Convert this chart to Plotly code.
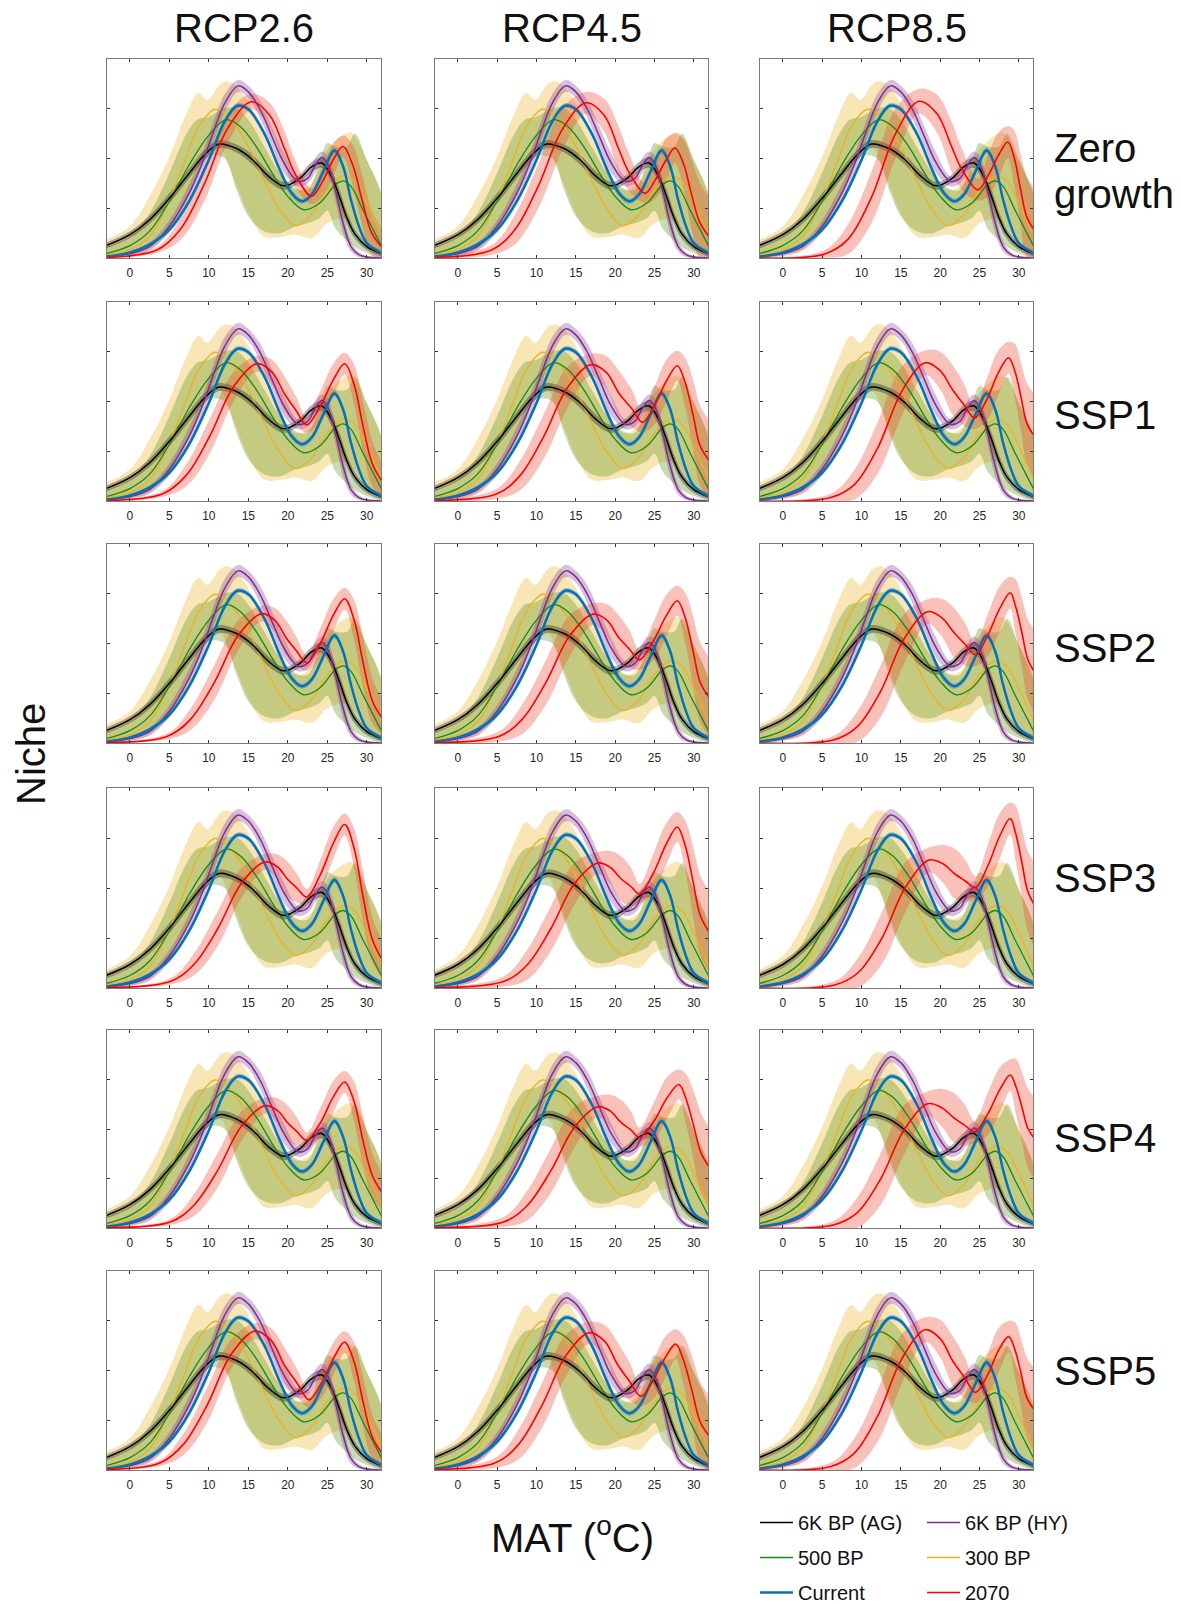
import plotly.graph_objects as go

# ---------------- text ----------------
COL_TITLES = ["RCP2.6", "RCP4.5", "RCP8.5"]
ROW_TITLES = [["Zero", "growth"], ["SSP1"], ["SSP2"], ["SSP3"], ["SSP4"], ["SSP5"]]
X_TICKS = [0, 5, 10, 15, 20, 25, 30]
Y_TICKS = [1, 2, 3]
NAMES = ["6K BP (AG)", "6K BP (HY)", "500 BP", "300 BP", "Current", "2070"]

# ---------------- historical curves (identical in every panel) ----------------
BLACK_X = [-3, 0, 2.5, 5, 7.5, 9.5, 11.3, 13.5, 15.5, 17.5, 19.5, 21.5, 23, 24.3, 25.5, 26.5, 27.5, 28.5, 30, 32]
BLACK_Y = [0.25, 0.47, 0.77, 1.2, 1.7, 2.08, 2.29, 2.2, 1.98, 1.65, 1.45, 1.6, 1.83, 1.91, 1.65, 1.25, 0.8, 0.48, 0.23, 0.08]
BLACK_HW = [0.06, 0.07, 0.08, 0.1, 0.1, 0.1, 0.08, 0.08, 0.1, 0.1, 0.08, 0.08, 0.1, 0.1, 0.12, 0.14, 0.12, 0.1, 0.07, 0.04]

PURPLE_X = [-3, 0, 2.5, 5, 7.5, 9, 10.5, 12, 13.7, 15, 16.5, 18, 19.5, 21.3, 22.5, 23.5, 24.3, 25, 26, 27, 28, 29, 30, 32]
PURPLE_Y = [0.03, 0.09, 0.23, 0.64, 1.3, 1.84, 2.5, 3.11, 3.46, 3.34, 2.98, 2.44, 1.91, 1.54, 1.6, 1.87, 2.02, 1.91, 1.37, 0.7, 0.23, 0.07, 0.02, 0.0]
PURPLE_HW = [0.02, 0.05, 0.08, 0.12, 0.18, 0.2, 0.2, 0.18, 0.12, 0.12, 0.18, 0.2, 0.2, 0.1, 0.1, 0.15, 0.12, 0.15, 0.2, 0.2, 0.1, 0.05, 0.02, 0.0]

BLUE_X = [-3, 0, 2.5, 5, 7.5, 10, 12, 13.6, 15, 17, 19, 20.5, 21.8, 23, 24.5, 25.9, 27, 28, 29, 30, 32]
BLUE_Y = [0.03, 0.11, 0.27, 0.57, 1.14, 1.97, 2.74, 3.06, 2.99, 2.51, 1.77, 1.3, 1.14, 1.27, 1.74, 2.16, 1.84, 1.17, 0.64, 0.3, 0.08]
BLUE_HW = [0.02, 0.03, 0.04, 0.05, 0.06, 0.07, 0.07, 0.05, 0.05, 0.07, 0.08, 0.07, 0.05, 0.06, 0.08, 0.06, 0.08, 0.08, 0.06, 0.04, 0.02]

GREEN_X = [-3, 0, 2.5, 5, 7.5, 10, 12.2, 14, 16, 18, 20, 22, 24, 26, 27, 28, 29.5, 32]
GREEN_Y = [0.09, 0.25, 0.54, 1.14, 1.87, 2.47, 2.78, 2.64, 2.24, 1.71, 1.24, 0.97, 1.1, 1.47, 1.55, 1.44, 0.97, 0.2]
GREEN_BAND_X = [-3, 0, 2.5, 5, 7, 8.5, 10, 12, 13.5, 15, 17, 19, 21, 22.5, 24, 25, 26, 27.5, 28.5, 30, 32]
GREEN_BAND_HI = [0.22, 0.43, 0.9, 1.71, 2.44, 2.78, 2.84, 3.01, 3.01, 2.78, 2.24, 1.71, 1.4, 1.37, 1.91, 2.31, 2.24, 2.24, 2.5, 1.97, 1.2]
GREEN_BAND_LO = [0.0, 0.07, 0.23, 0.6, 1.17, 1.64, 2.04, 2.0, 1.37, 0.84, 0.54, 0.5, 0.64, 0.7, 0.8, 0.95, 0.6, 0.35, 0.22, 0.1, 0.03]

YELLOW_X = [-3, 0, 2.5, 5, 7, 8.5, 10, 10.8, 12, 13.5, 15, 17, 19, 21, 23, 25, 27, 28.5, 30, 32]
YELLOW_Y = [0.07, 0.17, 0.43, 1.17, 1.97, 2.58, 2.91, 2.99, 2.91, 2.64, 2.24, 1.57, 0.97, 0.65, 0.87, 1.37, 1.65, 1.54, 1.1, 0.4]
YELLOW_BAND_X = [-3, 0, 2.5, 5, 7, 8.7, 9.8, 11.5, 12.5, 13.5, 15, 17, 19, 21, 23, 25, 27, 28, 30, 32]
YELLOW_BAND_HI = [0.37, 0.64, 1.24, 2.04, 2.84, 3.32, 3.18, 3.51, 3.55, 3.44, 3.11, 2.44, 1.77, 1.37, 1.5, 2.17, 2.47, 2.52, 1.97, 1.15]
YELLOW_BAND_LO = [0.0, 0.05, 0.17, 0.57, 1.1, 1.7, 2.2, 2.2, 1.85, 1.47, 0.9, 0.43, 0.42, 0.47, 0.4, 0.7, 0.8, 0.7, 0.3, 0.05]

# ---------------- 2070 curves, one list per column (RCP2.6, RCP4.5, RCP8.5) ----------------
RED_X_ZERO = [
    [-3, 3.4, 6.4, 9.4, 12.4, 15.4, 17.7, 19.6, 20.9, 23.0, 24.4, 25.8, 27.0, 28.2, 29.4, 30.6, 32],
    [-3, 4.3, 7.3, 10.3, 13.3, 16.3, 18.6, 20.4, 21.7, 23.8, 25.1, 26.5, 27.6, 28.7, 29.7, 30.8, 32],
    [-3, 5.3, 8.3, 11.3, 14.3, 17.3, 19.6, 21.4, 22.7, 24.8, 26.1, 27.5, 28.6, 29.4, 30.2, 31.0, 32]]
RED_Y_ZERO = [
    [0.01, 0.16, 0.58, 1.48, 2.61, 3.14, 2.87, 2.19, 1.70, 1.24, 1.54, 1.99, 2.24, 1.88, 1.17, 0.51, 0.2],
    [0.01, 0.16, 0.58, 1.47, 2.59, 3.12, 2.87, 2.21, 1.74, 1.30, 1.57, 1.98, 2.21, 1.89, 1.28, 0.70, 0.42],
    [0.0, 0.08, 0.38, 1.23, 2.49, 3.15, 2.90, 2.26, 1.80, 1.37, 1.66, 2.09, 2.33, 2.02, 1.40, 0.83, 0.55]]
RED_X_SSP1 = [
    [-3, 4.1, 7.1, 10.1, 13.1, 16.1, 18.0, 19.6, 21.0, 22.4, 24.1, 25.8, 27.2, 28.4, 29.5, 30.7, 32],
    [-3, 4.9, 7.9, 10.9, 13.9, 16.9, 18.9, 20.5, 22.1, 23.5, 25.0, 26.6, 27.9, 28.9, 29.9, 30.8, 32],
    [-3, 6.1, 9.1, 12.1, 15.1, 18.1, 20.0, 21.6, 23.0, 24.4, 25.9, 27.4, 28.7, 29.5, 30.3, 31.0, 32]]
RED_Y_SSP1 = [
    [0.01, 0.14, 0.51, 1.30, 2.29, 2.76, 2.59, 2.15, 1.83, 1.53, 1.90, 2.45, 2.76, 2.34, 1.52, 0.75, 0.38],
    [0.01, 0.14, 0.51, 1.29, 2.27, 2.74, 2.58, 2.16, 1.86, 1.58, 1.92, 2.44, 2.72, 2.38, 1.73, 1.11, 0.8],
    [0.0, 0.07, 0.33, 1.08, 2.20, 2.78, 2.62, 2.23, 1.94, 1.67, 2.03, 2.58, 2.88, 2.61, 2.07, 1.57, 1.3]]
RED_X_SSP2 = [
    [-3, 4.7, 7.7, 10.7, 13.7, 16.7, 18.4, 19.8, 21.1, 22.4, 24.1, 25.8, 27.2, 28.4, 29.5, 30.7, 32],
    [-3, 5.2, 8.2, 11.2, 14.2, 17.2, 19.0, 20.4, 21.8, 23.1, 24.8, 26.5, 27.9, 28.9, 29.9, 30.8, 32],
    [-3, 6.4, 9.4, 12.4, 15.4, 18.4, 20.2, 21.8, 23.2, 24.5, 26.0, 27.6, 28.9, 29.6, 30.4, 31.1, 32]]
RED_Y_SSP2 = [
    [0.01, 0.13, 0.48, 1.22, 2.16, 2.60, 2.46, 2.11, 1.85, 1.61, 2.00, 2.58, 2.90, 2.47, 1.64, 0.85, 0.48],
    [0.01, 0.13, 0.48, 1.22, 2.15, 2.59, 2.46, 2.13, 1.89, 1.67, 2.03, 2.56, 2.86, 2.52, 1.85, 1.22, 0.9],
    [0.0, 0.06, 0.32, 1.03, 2.09, 2.64, 2.52, 2.21, 1.98, 1.77, 2.15, 2.71, 3.02, 2.74, 2.21, 1.70, 1.42]]
RED_X_SSP3 = [
    [-3, 5.1, 8.1, 11.1, 14.1, 17.1, 18.7, 20.0, 21.2, 22.4, 24.1, 25.8, 27.2, 28.4, 29.5, 30.7, 32],
    [-3, 5.8, 8.8, 11.8, 14.8, 17.8, 19.4, 20.7, 22.0, 23.1, 24.8, 26.5, 27.9, 28.9, 29.9, 30.8, 32],
    [-3, 6.6, 9.6, 12.6, 15.6, 18.6, 20.4, 21.8, 23.2, 24.5, 26.0, 27.6, 28.9, 29.6, 30.4, 31.1, 32]]
RED_Y_SSP3 = [
    [0.01, 0.13, 0.47, 1.18, 2.09, 2.52, 2.42, 2.17, 1.99, 1.82, 2.26, 2.91, 3.27, 2.79, 1.85, 0.97, 0.55],
    [0.01, 0.13, 0.46, 1.18, 2.08, 2.50, 2.41, 2.19, 2.03, 1.88, 2.28, 2.88, 3.22, 2.85, 2.13, 1.46, 1.1],
    [0.0, 0.06, 0.31, 1.00, 2.02, 2.56, 2.48, 2.29, 2.14, 2.01, 2.42, 3.05, 3.39, 3.09, 2.50, 1.95, 1.65]]
RED_X_SSP4 = [
    [-3, 5.1, 8.1, 11.1, 14.1, 17.1, 18.7, 20.0, 21.2, 22.4, 24.1, 25.8, 27.2, 28.4, 29.5, 30.7, 32],
    [-3, 5.8, 8.8, 11.8, 14.8, 17.8, 19.4, 20.7, 22.0, 23.1, 24.9, 26.6, 28.1, 29.0, 30.0, 30.9, 32],
    [-3, 6.4, 9.4, 12.4, 15.4, 18.4, 20.2, 21.7, 23.1, 24.4, 26.0, 27.6, 28.9, 29.6, 30.4, 31.1, 32]]
RED_Y_SSP4 = [
    [0.01, 0.12, 0.46, 1.16, 2.05, 2.47, 2.37, 2.12, 1.94, 1.77, 2.12, 2.66, 2.95, 2.55, 1.78, 1.06, 0.7],
    [0.01, 0.12, 0.45, 1.15, 2.03, 2.45, 2.36, 2.14, 1.98, 1.83, 2.15, 2.63, 2.90, 2.61, 2.05, 1.52, 1.22],
    [0.0, 0.06, 0.30, 0.98, 1.98, 2.51, 2.43, 2.23, 2.08, 1.94, 2.29, 2.80, 3.09, 2.87, 2.44, 2.03, 1.8]]
RED_X_SSP5 = [
    [-3, 3.8, 6.8, 9.8, 12.8, 15.8, 17.9, 19.6, 21.2, 22.7, 24.3, 25.9, 27.2, 28.4, 29.5, 30.7, 32],
    [-3, 4.7, 7.7, 10.7, 13.7, 16.7, 18.7, 20.3, 21.8, 23.3, 24.8, 26.4, 27.7, 28.7, 29.8, 30.8, 32],
    [-3, 6.1, 9.1, 12.1, 15.1, 18.1, 20.0, 21.6, 23.1, 24.5, 26.0, 27.4, 28.7, 29.5, 30.3, 31.0, 32]]
RED_Y_SSP5 = [
    [0.01, 0.14, 0.52, 1.31, 2.32, 2.79, 2.60, 2.10, 1.74, 1.41, 1.76, 2.28, 2.57, 2.17, 1.39, 0.66, 0.32],
    [0.01, 0.14, 0.51, 1.30, 2.29, 2.76, 2.58, 2.12, 1.79, 1.48, 1.80, 2.27, 2.53, 2.20, 1.57, 0.97, 0.67],
    [0.0, 0.07, 0.34, 1.10, 2.23, 2.82, 2.64, 2.19, 1.86, 1.56, 1.90, 2.40, 2.68, 2.42, 1.93, 1.46, 1.2]]
# half-width of the 2070 uncertainty band, per column, aligned with the points above
RED_HW_C1 = [0.01, 0.06, 0.22, 0.35, 0.3, 0.16, 0.25, 0.35, 0.28, 0.16, 0.3, 0.32, 0.22, 0.4, 0.5, 0.45, 0.3]
RED_HW_C2 = [0.01, 0.1, 0.3, 0.45, 0.42, 0.22, 0.33, 0.45, 0.38, 0.2, 0.38, 0.42, 0.3, 0.5, 0.7, 0.8, 0.75]
RED_HW_C3 = [0.01, 0.08, 0.3, 0.52, 0.5, 0.25, 0.38, 0.5, 0.42, 0.22, 0.42, 0.45, 0.32, 0.55, 0.7, 0.8, 0.8]

RED_X_ROWS = [RED_X_ZERO, RED_X_SSP1, RED_X_SSP2, RED_X_SSP3, RED_X_SSP4, RED_X_SSP5]
RED_Y_ROWS = [RED_Y_ZERO, RED_Y_SSP1, RED_Y_SSP2, RED_Y_SSP3, RED_Y_SSP4, RED_Y_SSP5]
RED_HW_COLS = [RED_HW_C1, RED_HW_C2, RED_HW_C3]

# ---------------- style / layout (pixel positions) ----------------
W, H = 1181, 1604
COL_LEFT = [107, 435, 760]
COL_RIGHT = [381, 708, 1033]
ROW_TOP = [59, 302, 544, 788, 1030, 1271]
ROW_BOT = [258, 501, 743, 988, 1228, 1470]
ROW_LABEL_Y = [[148, 194], [415], [648], [878], [1138], [1371]]
FONT = "Liberation Sans, Arial, sans-serif"

C_BLACK, C_PURPLE, C_GREEN = "#000000", "#7E2F8E", "#158A15"
C_YELLOW, C_BLUE, C_RED = "#EDB120", "#0072BD", "#FF0000"
F_BLACK = "rgba(0,0,0,0.30)"
F_PURPLE = "rgba(126,47,142,0.3)"
F_GREEN = "rgba(80,140,10,0.31)"
F_YELLOW = "rgba(237,177,32,0.32)"
F_BLUE = "rgba(0,114,189,0.35)"
F_RED = "rgba(235,70,50,0.33)"


def px_x(p):
    return p / W


def px_y(p):
    return 1 - p / H


fig = go.Figure()


def band(xs, lo, hi, color, k):
    fig.add_trace(go.Scatter(
        x=list(xs) + list(xs)[::-1], y=list(hi) + list(lo)[::-1],
        fill="toself", fillcolor=color, mode="lines",
        line=dict(width=0, shape="spline", color=color),
        hoverinfo="skip", showlegend=False,
        xaxis=f"x{k}", yaxis=f"y{k}"))


def line(xs, ys, color, width, name, legend, rank, k, show):
    fig.add_trace(go.Scatter(
        x=xs, y=ys, mode="lines", name=name,
        line=dict(color=color, width=width, shape="spline"),
        showlegend=show, legend=legend, legendrank=rank, legendgroup=name,
        xaxis=f"x{k}", yaxis=f"y{k}"))


def pm(ys, hw, sign):
    return [max(0.0, y + sign * w) for y, w in zip(ys, hw)]


k = 0
for r in range(6):
    for c in range(3):
        k += 1
        rx = RED_X_ROWS[r][c]
        ry = RED_Y_ROWS[r][c]
        rhw = RED_HW_COLS[c]
        band(YELLOW_BAND_X, YELLOW_BAND_LO, YELLOW_BAND_HI, F_YELLOW, k)
        band(GREEN_BAND_X, GREEN_BAND_LO, GREEN_BAND_HI, F_GREEN, k)
        band(BLACK_X, pm(BLACK_Y, BLACK_HW, -1), pm(BLACK_Y, BLACK_HW, 1), F_BLACK, k)
        band(PURPLE_X, pm(PURPLE_Y, PURPLE_HW, -1), pm(PURPLE_Y, PURPLE_HW, 1), F_PURPLE, k)
        band(BLUE_X, pm(BLUE_Y, BLUE_HW, -1), pm(BLUE_Y, BLUE_HW, 1), F_BLUE, k)
        band(rx, pm(ry, rhw, -1), pm(ry, rhw, 1), F_RED, k)
        show = (k == 1)
        line(YELLOW_X, YELLOW_Y, C_YELLOW, 1.3, NAMES[3], "legend2", 2, k, show)
        line(GREEN_X, GREEN_Y, C_GREEN, 1.3, NAMES[2], "legend", 2, k, show)
        line(BLACK_X, BLACK_Y, C_BLACK, 1.5, NAMES[0], "legend", 1, k, show)
        line(PURPLE_X, PURPLE_Y, C_PURPLE, 1.5, NAMES[1], "legend2", 1, k, show)
        line(BLUE_X, BLUE_Y, C_BLUE, 2.4, NAMES[4], "legend", 3, k, show)
        line(rx, ry, C_RED, 1.6, NAMES[5], "legend2", 3, k, show)

        ax = dict(
            domain=[px_x(COL_LEFT[c]), px_x(COL_RIGHT[c])],
            range=[-2.9, 31.8], tickvals=X_TICKS, ticktext=[str(t) for t in X_TICKS],
            ticks="inside", ticklen=3, tickcolor="#333333", tickwidth=1,
            showline=True, linecolor="#7a7a7a", linewidth=1, mirror="ticks",
            showgrid=False, zeroline=False, anchor=f"y{k}",
            tickfont=dict(family=FONT, size=12, color="#262626"),
            ticklabelstandoff=4, fixedrange=True)
        ay = dict(
            domain=[px_y(ROW_BOT[r]), px_y(ROW_TOP[r])],
            range=[0, 4], tickvals=Y_TICKS, showticklabels=False,
            ticks="inside", ticklen=3, tickcolor="#333333", tickwidth=1,
            showline=True, linecolor="#7a7a7a", linewidth=1, mirror="ticks",
            showgrid=False, zeroline=False, anchor=f"x{k}", fixedrange=True)
        fig.update_layout(**{f"xaxis{k}": ax, f"yaxis{k}": ay})

BIG = dict(family=FONT, size=40, color="#111111")
annotations = []
for c, t in enumerate(COL_TITLES):
    annotations.append(dict(
        text=t, x=px_x((COL_LEFT[c] + COL_RIGHT[c]) / 2), y=px_y(28),
        xref="paper", yref="paper", xanchor="center", yanchor="middle",
        showarrow=False, font=BIG))
for r, lines in enumerate(ROW_TITLES):
    for t, yy in zip(lines, ROW_LABEL_Y[r]):
        annotations.append(dict(
            text=t, x=px_x(1052), y=px_y(yy),
            xref="paper", yref="paper", xanchor="left", yanchor="middle", align="left",
            showarrow=False, font=BIG))
annotations.append(dict(
    text="Niche", x=px_x(31), y=px_y(754), textangle=-90,
    xref="paper", yref="paper", xanchor="center", yanchor="middle",
    showarrow=False, font=BIG))
annotations.append(dict(
    text="MAT (<sup>o</sup>C)", x=px_x(572), y=px_y(1535),
    xref="paper", yref="paper", xanchor="center", yanchor="middle",
    showarrow=False, font=BIG))

leg_common = dict(
    orientation="v", xanchor="left", yanchor="top",
    font=dict(family=FONT, size=20, color="#111111"),
    bgcolor="rgba(0,0,0,0)", borderwidth=0, tracegroupgap=6,
    itemwidth=33)

fig.update_layout(
    width=W, height=H, margin=dict(l=0, r=0, t=0, b=0, autoexpand=False),
    paper_bgcolor="white", plot_bgcolor="white",
    annotations=annotations,
    legend=dict(x=px_x(755), y=px_y(1503), **leg_common),
    legend2=dict(x=px_x(922), y=px_y(1503), **leg_common),
)

fig.write_html(
    "out.html",
    config={"displayModeBar": False},
    post_script="document.body.style.margin='0px';document.body.style.overflow='hidden';")
